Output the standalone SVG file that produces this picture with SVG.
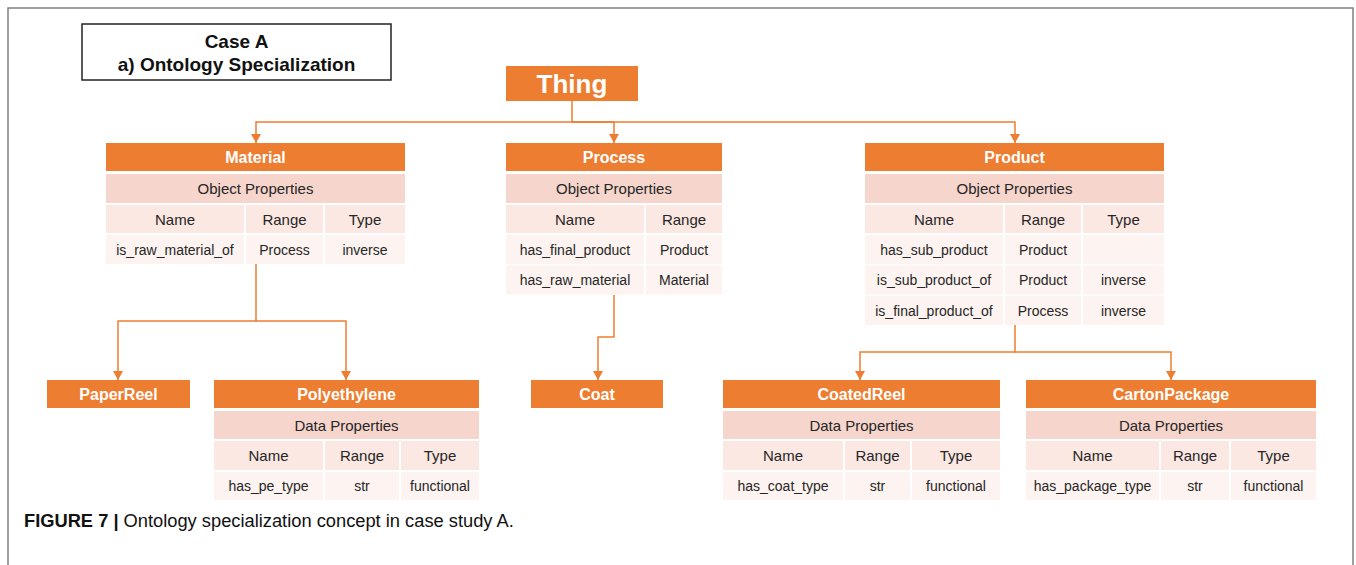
<svg xmlns="http://www.w3.org/2000/svg" width="1356" height="565" viewBox="0 0 1356 565">
<style>
.hdr{fill:#ED7D31}
.op{fill:#F5D5CC}
.nm{fill:#FBE8E3}
.rw{fill:#FDF3F0}
text{font-family:"Liberation Sans",Arial,sans-serif}
.ht{fill:#fff;font-weight:bold;font-size:16px;text-anchor:middle}
.ct{fill:#262626;font-size:15px;text-anchor:middle}
.vt{fill:#262626;font-size:14px;text-anchor:middle}
.conn{fill:none;stroke:#ED7D31;stroke-width:1.5;marker-end:url(#arr)}
</style>
<defs>
<marker id="arr" markerUnits="userSpaceOnUse" markerWidth="9" markerHeight="10" viewBox="0 0 9 10" refX="9" refY="5" orient="auto">
<path d="M0,0 L9,5 L0,10 Z" fill="#ED7D31"/>
</marker>
</defs>
<rect width="1356" height="565" fill="#fff"/>
<g id="frame" fill="none" stroke="#808080" stroke-width="1.5">
<path d="M8,565 V8 H1353 V565"/>
</g>
<g id="title">
<rect x="82" y="24" width="309" height="56" fill="#fff" stroke="#222" stroke-width="1.5"/>
<text x="236.5" y="48" font-size="19" font-weight="bold" text-anchor="middle" fill="#111">Case A</text>
<text x="236.5" y="71" font-size="19" font-weight="bold" text-anchor="middle" fill="#111">a) Ontology Specialization</text>
</g>
<g id="connectors">
<path class="conn" d="M572,101 V122 H256 V143"/>
<path class="conn" d="M572,122 H614 V143"/>
<path class="conn" d="M572,122 H1015 V143"/>
<path class="conn" d="M256,264 V321 H118 V380"/>
<path class="conn" d="M256,321 H346 V380"/>
<path class="conn" d="M614,295 V337 H598 V380"/>
<path class="conn" d="M1015,325 V352 H860 V380"/>
<path class="conn" d="M1015,352 H1171 V380"/>
</g>
<g id="thing">
<rect class="hdr" x="506" y="66" width="132" height="35"/>
<text x="572" y="93" font-size="26" font-weight="bold" fill="#fff" text-anchor="middle">Thing</text>
</g>
<g id="material">
<rect class="hdr" x="106" y="143" width="299" height="28"/>
<text class="ht" x="255.5" y="162.5">Material</text>
<rect class="op" x="106" y="174" width="299" height="29"/>
<text class="ct" x="255.5" y="194">Object Properties</text>
<rect class="nm" x="106" y="205" width="138" height="28"/>
<rect class="nm" x="246" y="205" width="77" height="28"/>
<rect class="nm" x="325" y="205" width="80" height="28"/>
<text class="ct" x="175" y="224.5">Name</text>
<text class="ct" x="284.5" y="224.5">Range</text>
<text class="ct" x="365" y="224.5">Type</text>
<rect class="rw" x="106" y="235" width="138" height="29"/>
<rect class="rw" x="246" y="235" width="77" height="29"/>
<rect class="rw" x="325" y="235" width="80" height="29"/>
<text class="vt" x="175" y="254.5">is_raw_material_of</text>
<text class="vt" x="284.5" y="254.5">Process</text>
<text class="vt" x="365" y="254.5">inverse</text>
</g>
<g id="process">
<rect class="hdr" x="506" y="143" width="216" height="28"/>
<text class="ht" x="614" y="162.5">Process</text>
<rect class="op" x="506" y="174" width="216" height="29"/>
<text class="ct" x="614" y="194">Object Properties</text>
<rect class="nm" x="506" y="205" width="138" height="28"/>
<rect class="nm" x="646" y="205" width="76" height="28"/>
<text class="ct" x="575" y="224.5">Name</text>
<text class="ct" x="684" y="224.5">Range</text>
<rect class="rw" x="506" y="235" width="138" height="29"/>
<rect class="rw" x="646" y="235" width="76" height="29"/>
<text class="vt" x="575" y="254.5">has_final_product</text>
<text class="vt" x="684" y="254.5">Product</text>
<rect class="rw" x="506" y="265.5" width="138" height="29"/>
<rect class="rw" x="646" y="265.5" width="76" height="29"/>
<text class="vt" x="575" y="285">has_raw_material</text>
<text class="vt" x="684" y="285">Material</text>
</g>
<g id="product">
<rect class="hdr" x="865" y="143" width="299" height="28"/>
<text class="ht" x="1014.5" y="162.5">Product</text>
<rect class="op" x="865" y="174" width="299" height="29"/>
<text class="ct" x="1014.5" y="194">Object Properties</text>
<rect class="nm" x="865" y="205" width="138" height="28"/>
<rect class="nm" x="1005" y="205" width="76" height="28"/>
<rect class="nm" x="1083" y="205" width="81" height="28"/>
<text class="ct" x="934" y="224.5">Name</text>
<text class="ct" x="1043" y="224.5">Range</text>
<text class="ct" x="1123.5" y="224.5">Type</text>
<rect class="rw" x="865" y="235" width="138" height="29"/>
<rect class="rw" x="1005" y="235" width="76" height="29"/>
<rect class="rw" x="1083" y="235" width="81" height="29"/>
<text class="vt" x="934" y="254.5">has_sub_product</text>
<text class="vt" x="1043" y="254.5">Product</text>
<rect class="rw" x="865" y="265.5" width="138" height="29"/>
<rect class="rw" x="1005" y="265.5" width="76" height="29"/>
<rect class="rw" x="1083" y="265.5" width="81" height="29"/>
<text class="vt" x="934" y="285">is_sub_product_of</text>
<text class="vt" x="1043" y="285">Product</text>
<text class="vt" x="1123.5" y="285">inverse</text>
<rect class="rw" x="865" y="296" width="138" height="29"/>
<rect class="rw" x="1005" y="296" width="76" height="29"/>
<rect class="rw" x="1083" y="296" width="81" height="29"/>
<text class="vt" x="934" y="315.5">is_final_product_of</text>
<text class="vt" x="1043" y="315.5">Process</text>
<text class="vt" x="1123.5" y="315.5">inverse</text>
</g>
<g id="paperreel">
<rect class="hdr" x="47" y="380" width="143" height="28"/>
<text class="ht" x="118.5" y="400">PaperReel</text>
</g>
<g id="polyethylene">
<rect class="hdr" x="214" y="380" width="265" height="28"/>
<text class="ht" x="346.5" y="400">Polyethylene</text>
<rect class="op" x="214" y="411" width="265" height="28"/>
<text class="ct" x="346.5" y="431">Data Properties</text>
<rect class="nm" x="214" y="441" width="109" height="29"/>
<rect class="nm" x="325" y="441" width="74" height="29"/>
<rect class="nm" x="401" y="441" width="78" height="29"/>
<text class="ct" x="268.5" y="461">Name</text>
<text class="ct" x="362" y="461">Range</text>
<text class="ct" x="440" y="461">Type</text>
<rect class="rw" x="214" y="472" width="109" height="28"/>
<rect class="rw" x="325" y="472" width="74" height="28"/>
<rect class="rw" x="401" y="472" width="78" height="28"/>
<text class="vt" x="268.5" y="491">has_pe_type</text>
<text class="vt" x="362" y="491">str</text>
<text class="vt" x="440" y="491">functional</text>
</g>
<g id="coat">
<rect class="hdr" x="531" y="380" width="132" height="28"/>
<text class="ht" x="597" y="400">Coat</text>
</g>
<g id="coatedreel">
<rect class="hdr" x="723" y="380" width="277" height="28"/>
<text class="ht" x="861.5" y="400">CoatedReel</text>
<rect class="op" x="723" y="411" width="277" height="28"/>
<text class="ct" x="861.5" y="431">Data Properties</text>
<rect class="nm" x="723" y="441" width="120" height="29"/>
<rect class="nm" x="845" y="441" width="65" height="29"/>
<rect class="nm" x="912" y="441" width="88" height="29"/>
<text class="ct" x="783" y="461">Name</text>
<text class="ct" x="877.5" y="461">Range</text>
<text class="ct" x="956" y="461">Type</text>
<rect class="rw" x="723" y="472" width="120" height="28"/>
<rect class="rw" x="845" y="472" width="65" height="28"/>
<rect class="rw" x="912" y="472" width="88" height="28"/>
<text class="vt" x="783" y="491">has_coat_type</text>
<text class="vt" x="877.5" y="491">str</text>
<text class="vt" x="956" y="491">functional</text>
</g>
<g id="cartonpackage">
<rect class="hdr" x="1026" y="380" width="290" height="28"/>
<text class="ht" x="1171" y="400">CartonPackage</text>
<rect class="op" x="1026" y="411" width="290" height="28"/>
<text class="ct" x="1171" y="431">Data Properties</text>
<rect class="nm" x="1026" y="441" width="133" height="29"/>
<rect class="nm" x="1161" y="441" width="68" height="29"/>
<rect class="nm" x="1231" y="441" width="85" height="29"/>
<text class="ct" x="1092.5" y="461">Name</text>
<text class="ct" x="1195" y="461">Range</text>
<text class="ct" x="1273.5" y="461">Type</text>
<rect class="rw" x="1026" y="472" width="133" height="28"/>
<rect class="rw" x="1161" y="472" width="68" height="28"/>
<rect class="rw" x="1231" y="472" width="85" height="28"/>
<text class="vt" x="1092.5" y="491">has_package_type</text>
<text class="vt" x="1195" y="491">str</text>
<text class="vt" x="1273.5" y="491">functional</text>
</g>
<g id="caption">
<text x="24" y="527" font-size="18.3" fill="#111"><tspan font-weight="bold">FIGURE 7 |</tspan> Ontology specialization concept in case study A.</text>
</g>
</svg>
